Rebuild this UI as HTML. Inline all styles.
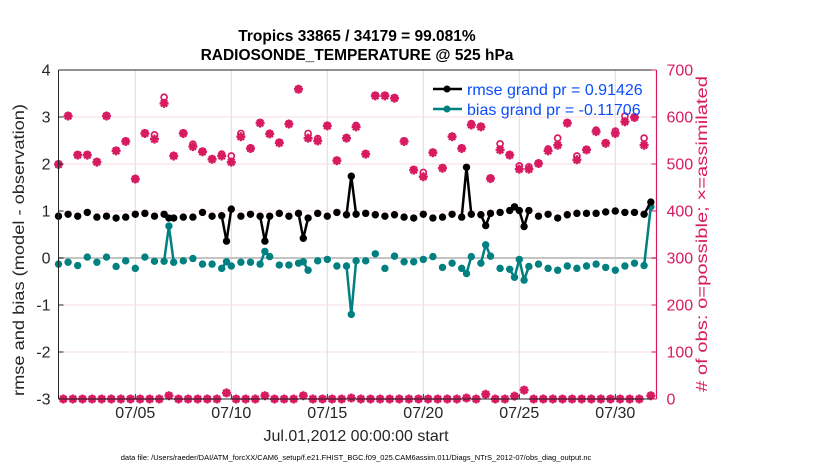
<!DOCTYPE html>
<html><head><meta charset="utf-8">
<style>
html,body{margin:0;padding:0;background:#fff;}
svg{display:block;font-family:"Liberation Sans",Arial,sans-serif;}
</style></head>
<body>
<svg id="chart" width="830" height="470" viewBox="0 0 830 470">
<text x="357" y="41" text-anchor="middle" font-size="15.5" font-weight="bold" fill="#000">Tropics 33865 / 34179 = 99.081%</text>
<text x="357" y="60" text-anchor="middle" font-size="15.5" font-weight="bold" fill="#000">RADIOSONDE_TEMPERATURE @ 525 hPa</text>
<g id="grid"></g>
<g id="series"></g>
<g id="axes"></g>
<text x="24" y="250" text-anchor="middle" font-size="16" textLength="292" lengthAdjust="spacingAndGlyphs" fill="#262626" transform="rotate(-90 24 250)">rmse and bias (model - observation)</text>
<text x="707" y="234" text-anchor="middle" font-size="16" textLength="316" lengthAdjust="spacingAndGlyphs" fill="#d81b60" transform="rotate(-90 707 234)"># of obs: o=possible; ×=assimilated</text>
<text x="356" y="441" text-anchor="middle" font-size="16" fill="#262626">Jul.01,2012 00:00:00 start</text>
<text x="356" y="460" text-anchor="middle" font-size="7.5" fill="#000">data file: /Users/raeder/DAI/ATM_forcXX/CAM6_setup/f.e21.FHIST_BGC.f09_025.CAM6assim.011/Diags_NTrS_2012-07/obs_diag_output.nc</text>
<g>
<line x1="433" y1="89" x2="462" y2="89" stroke="#000" stroke-width="2.5"/>
<circle cx="447" cy="89" r="3.5" fill="#000"/>
<text x="467" y="95" font-size="16" fill="#0b4dfb">rmse grand pr = 0.91426</text>
<line x1="433" y1="109" x2="462" y2="109" stroke="#008080" stroke-width="2.5"/>
<circle cx="447" cy="109" r="3.5" fill="#008080"/>
<text x="467" y="115" font-size="16" fill="#0b4dfb">bias grand pr = -0.11706</text>
</g>
</svg>
<script>
const times=[0,0.5,1,1.5,2,2.5,3,3.5,4,4.5,5,5.5,5.75,6,6.5,7,7.5,8,8.5,8.75,9,9.5,10,10.5,10.75,11,11.5,12,12.5,12.75,13,13.5,14,14.5,15,15.25,15.5,16,16.5,17,17.5,18,18.5,19,19.5,20,20.5,21,21.25,21.5,22,22.25,22.5,23,23.5,23.75,24,24.25,24.5,25,25.5,26,26.5,27,27.5,28,28.5,29,29.5,30,30.5,30.85];
const rmse=[.89,.93,.89,.97,.87,.89,.85,.87,.93,.95,.89,.93,.85,.85,.87,.87,.97,.89,.90,.36,1.04,.89,.93,.89,.36,.89,.95,.89,.95,.42,.85,.95,.89,.97,.92,1.74,.93,.95,.92,.89,.92,.87,.85,.93,.85,.87,.93,.87,1.93,.93,.92,.69,.95,.97,1.01,1.09,1.01,.67,1.01,.89,.93,.85,.92,.95,.95,.95,.98,1.0,.97,.97,.93,1.19];
const bias=[-.13,-.09,-.16,.02,-.09,.02,-.18,-.06,-.22,.02,-.07,-.07,.68,-.09,-.06,-.01,-.13,-.13,-.22,-.08,-.17,-.09,-.09,-.13,.14,.03,-.15,-.15,-.11,-.08,-.26,-.06,-.03,-.17,-.17,-1.2,-.06,-.06,.09,-.22,.04,-.08,-.08,-.03,.03,-.2,-.11,-.22,-.33,.03,-.11,.28,.04,-.22,-.24,-.41,-.03,-.47,-.18,-.13,-.22,-.26,-.17,-.22,-.17,-.13,-.2,-.26,-.17,-.11,-.16,1.09];
const obsTimes=[0,0.5,1,1.5,2,2.5,3,3.5,4,4.5,5,5.5,6,6.5,7,7.5,8,8.5,9,9.5,10,10.5,11,11.5,12,12.5,13,13.5,14,14.5,15,15.5,16,16.5,17,17.5,18,18.5,19,19.5,20,20.5,21,21.5,22,22.5,23,23.5,24,24.5,25,25.5,26,26.5,27,27.5,28,28.5,29,29.5,30,30.5];
const assimilated=[499,602,519,519,504,602,528,548,468,565,553,629,517,565,537,526,510,517,504,558,533,587,564,545,585,659,555,549,581,507,555,579,521,645,645,640,548,487,473,524,491,558,533,583,579,469,530,519,489,489,501,528,540,587,509,530,569,544,565,590,599,540];
const possible=[500,603,520,520,505,603,529,549,469,566,562,642,518,566,542,527,511,521,517,565,534,588,565,546,586,660,565,554,582,508,556,582,522,646,646,641,549,488,482,525,492,559,534,586,580,470,543,520,496,494,502,532,555,588,517,531,572,545,570,602,600,555];
const lowTimes=[0.25,0.75,1.25,1.75,2.25,2.75,3.25,3.75,4.25,4.75,5.25,5.75,6.25,6.75,7.25,7.75,8.25,8.75,9.25,9.75,10.25,10.75,11.25,11.75,12.25,12.75,13.25,13.75,14.25,14.75,15.25,15.75,16.25,16.75,17.25,17.75,18.25,18.75,19.25,19.75,20.25,20.75,21.25,21.75,22.25,22.75,23.25,23.75,24.25,24.75,25.25,25.75,26.25,26.75,27.25,27.75,28.25,28.75,29.25,29.75,30.25,30.85];
const lowCounts=[0,0,0,0,0,0,0,0,0,0,0,7,0,0,0,0,0,13,0,0,0,7,0,0,0,7,0,0,0,0,2,0,0,0,0,0,0,0,0,0,0,0,2,0,10,0,0,6,19,0,0,0,0,0,0,0,0,0,0,0,0,7];
const leftTicks=[-3,-2,-1,0,1,2,3,4];
const rightTicks=[0,100,200,300,400,500,600,700];
const xTickDays=[4,9,14,19,24,29];
const xTickLabels=["07/05","07/10","07/15","07/20","07/25","07/30"];

const X0=58.5,X1=656.5,Y0=399,Y1=70;
const TMIN=0,TMAX=(X1-X0)/19.2;
const xs=t=>X0+(t-TMIN)/(TMAX-TMIN)*(X1-X0);
const yl=v=>Y0-(v+3)/7*(Y0-Y1);
const yr=n=>Y0-n/700*(Y0-Y1);
const NS="http://www.w3.org/2000/svg";
function mk(tag,attrs,parent){const e=document.createElementNS(NS,tag);for(const k in attrs)e.setAttribute(k,attrs[k]);parent.appendChild(e);return e;}
const grid=document.getElementById('grid'),ser=document.getElementById('series'),axes=document.getElementById('axes');

xTickDays.forEach(d=>{
  const g=mk('line',{x1:xs(d),x2:xs(d),y1:Y1,y2:Y0,stroke:'#dcdcdc','stroke-width':1},grid);
  
  
});
rightTicks.forEach(n=>{
  if(n===0||n===700)return;
  const g=mk('line',{x1:X0,x2:X1,y1:yr(n),y2:yr(n),stroke:'#f6dde6','stroke-width':1},grid);
  
  
});
const zl=mk('line',{x1:X0,x2:X1,y1:yl(0),y2:yl(0),stroke:'#c4c4c4','stroke-width':2},grid);



function drawLine(vals,color,name){
  for(let i=1;i<times.length;i++){
    if(times[i]-times[i-1]<=0.36){
      const s=mk('line',{x1:xs(times[i-1]),y1:yl(vals[i-1]),x2:xs(times[i]),y2:yl(vals[i]),stroke:color,'stroke-width':2.5},ser);
      
      
    }
  }
  vals.forEach((v,i)=>{
    const c=mk('circle',{cx:xs(times[i]),cy:yl(v),r:3.7,fill:color},ser);
    
    
  });
}
function star(t,n,name){
  const x=xs(t),y=yr(n),r=4.5,d=3.2;
  const p=mk('path',{d:`M${x-r} ${y}H${x+r}M${x} ${y-r}V${y+r}M${x-d} ${y-d}L${x+d} ${y+d}M${x-d} ${y+d}L${x+d} ${y-d}`,stroke:'#d81b60','stroke-width':2.4,fill:'none'},ser);
  
  
  const c=mk('circle',{cx:x,cy:y,r:2.2,fill:'#d81b60'},ser);
  
  
}
function ring(t,n,name){
  const c=mk('circle',{cx:xs(t),cy:yr(n),r:3,fill:'none',stroke:'#d81b60','stroke-width':1.7},ser);
  
  
}
obsTimes.forEach((t,i)=>{ring(t,possible[i],'obs-possible');star(t,assimilated[i],'obs-assimilated');});
lowTimes.forEach((t,i)=>{ring(t,lowCounts[i],'obs-possible-low');star(t,lowCounts[i],'obs-assimilated-low');});
drawLine(bias,'#008080','bias');
drawLine(rmse,'#000000','rmse');

const a1=mk('line',{x1:X0,x2:X0,y1:Y1,y2:Y0,stroke:'#262626','stroke-width':1},axes);


const a2=mk('line',{x1:X1,x2:X1,y1:Y1,y2:Y0,stroke:'#d81b60','stroke-width':1.2},axes);


const a3=mk('line',{x1:X0,x2:X1,y1:Y1,y2:Y1,stroke:'#262626','stroke-width':1},axes);


const a4=mk('line',{x1:X0,x2:X1,y1:Y0,y2:Y0,stroke:'#262626','stroke-width':1},axes);


leftTicks.forEach(v=>{
  const tk=mk('line',{x1:X0,x2:X0+5,y1:yl(v),y2:yl(v),stroke:'#262626'},axes);
  
  
  const tx=mk('text',{x:X0-8,y:yl(v)+5.5,'text-anchor':'end','font-size':16,fill:'#262626'},axes);
  tx.textContent=String(v);
  
  
});
rightTicks.forEach(n=>{
  const tk=mk('line',{x1:X1-5,x2:X1,y1:yr(n),y2:yr(n),stroke:'#d81b60'},axes);
  
  
  const tx=mk('text',{x:X1+10,y:yr(n)+5.5,'text-anchor':'start','font-size':16,fill:'#d81b60'},axes);
  tx.textContent=String(n);
  
  
});
xTickDays.forEach((d,i)=>{
  const tk=mk('line',{x1:xs(d),x2:xs(d),y1:Y0,y2:Y0-5,stroke:'#262626'},axes);
  
  
  const tx=mk('text',{x:xs(d),y:Y0+19,'text-anchor':'middle','font-size':16,fill:'#262626'},axes);
  tx.textContent=xTickLabels[i];
  
  
});
</script>
</body></html>
